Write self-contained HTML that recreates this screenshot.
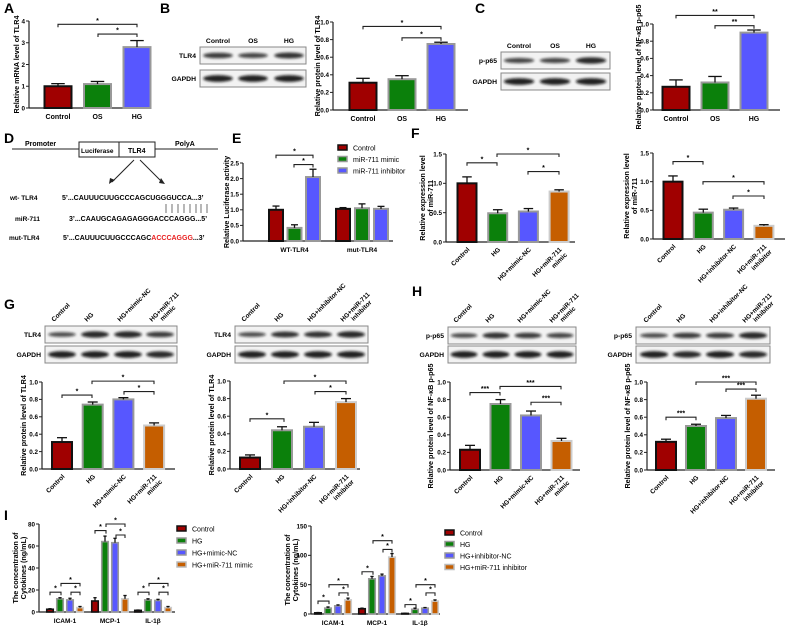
<!DOCTYPE html>
<html><head><meta charset="utf-8"><style>
body{margin:0;background:#fff;width:786px;height:626px;overflow:hidden}
svg{font-family:"Liberation Sans",Arial,sans-serif;font-weight:bold}
</style></head><body>
<svg id="fig" width="786" height="626" viewBox="0 0 786 626" xmlns="http://www.w3.org/2000/svg">
<defs><filter id="bl" x="-20%" y="-100%" width="140%" height="300%"><feGaussianBlur stdDeviation="1.2"/></filter></defs>
<g font-size="14">
<text x="4" y="13">A</text><text x="160" y="13">B</text><text x="475" y="13">C</text>
<text x="4" y="143">D</text><text x="232" y="143">E</text><text x="411" y="138">F</text>
<text x="4" y="309">G</text><text x="412" y="296">H</text><text x="4" y="520">I</text></g>
<g font-size="7">
<line x1="12" y1="149" x2="218" y2="149" stroke="#222" stroke-width="1"/>
<rect x="79" y="142" width="40" height="15" fill="#fff" stroke="#222"/><rect x="119" y="142" width="36" height="15" fill="#fff" stroke="#222"/>
<text x="25" y="146">Promoter</text><text x="81" y="153" font-size="6.5">Luciferase</text><text x="128" y="153">TLR4</text><text x="175" y="146">PolyA</text>
<line x1="134" y1="160" x2="112" y2="182" stroke="#222"/><path d="M109 184l1-6 5 2z" fill="#222"/>
<line x1="140" y1="160" x2="162" y2="182" stroke="#222"/><path d="M165 184l-6-1 2-5z" fill="#222"/>
<text x="10" y="200" font-size="6.5">wt- TLR4</text><text x="62" y="200">5’...CAUUUCUUGCCCAGCUGGGUCCA...3’</text>
<g stroke="#333" stroke-width=".7"><line x1="166" y1="204" x2="166" y2="213"/><line x1="172" y1="204" x2="172" y2="213"/><line x1="178" y1="204" x2="178" y2="213"/><line x1="184" y1="204" x2="184" y2="213"/><line x1="190" y1="204" x2="190" y2="213"/><line x1="196" y1="204" x2="196" y2="213"/><line x1="201" y1="204" x2="201" y2="213"/><line x1="207" y1="204" x2="207" y2="213"/></g>
<text x="15" y="221" font-size="6.5">miR-711</text><text x="69" y="221">3’...CAAUGCAGAGAGGGACCCAGGG...5’</text>
<text x="9" y="240" font-size="6.5">mut-TLR4</text><text x="63" y="240">5’...CAUUUCUUGCCCAGC<tspan fill="#e82020">ACCCAGGG</tspan>...3’</text></g>
</svg>
<script>
// ---- data arrays ----
const catABC=["Control","OS","HG"];
const valA=[1.0,1.1,2.8], errA=[0.12,0.12,0.3];
const valB=[0.31,0.35,0.75], errB=[0.05,0.04,0.02];
const valC=[0.27,0.32,0.9], errC=[0.08,0.07,0.03];
const catE=["WT-TLR4","mut-TLR4"], serE=["Control","miR-711 mimic","miR-711 inhibitor"];
const valE=[[1.0,0.42,2.05],[1.03,1.05,1.03]], errE=[[0.12,0.1,0.25],[0.04,0.14,0.08]];
const catFm=["Control","HG","HG+mimic-NC","HG+miR-711|mimic"];
const catFi=["Control","HG","HG+inhibitor-NC","HG+miR-711|inhibitor"];
const valF1=[1.0,0.49,0.52,0.86], errF1=[0.11,0.06,0.05,0.03];
const valF2=[1.0,0.46,0.51,0.23], errF2=[0.1,0.06,0.03,0.02];
const valG1=[0.31,0.74,0.80,0.50], errG1=[0.05,0.03,0.02,0.03];
const valG2=[0.13,0.44,0.48,0.76], errG2=[0.03,0.04,0.05,0.04];
const valH1=[0.23,0.75,0.62,0.33], errH1=[0.05,0.05,0.05,0.03];
const valH2=[0.32,0.50,0.59,0.81], errH2=[0.03,0.02,0.03,0.04];
const catI=["ICAM-1","MCP-1","IL-1β"];
const serI1=["Control","HG","HG+mimic-NC","HG+miR-711 mimic"];
const serI2=["Control","HG","HG+inhibitor-NC","HG+miR-711 inhibitor"];
const valI1=[[2.5,12,11,4],[10,64,63,12],[1.5,11,10.5,4]], errI1=[[0.5,1,1.5,1],[3,5,4,3],[0.3,1,1,1]];
const valI2=[[2,10,14,24],[9,60,65,97],[1,8,10,22]], errI2=[[0.5,2,1.5,3],[1,4,3,6],[0.3,2,1,2]];
const ticks4=[0,1,2,3,4], ticks1=[0,0.2,0.4,0.6,0.8,1.0], ticks25=[0,0.5,1.0,1.5,2.0,2.5], ticks15=[0,0.5,1.0,1.5], ticks80=[0,20,40,60,80], ticks150=[0,50,100,150];
// ---- drawing ----
const NS="http://www.w3.org/2000/svg", svg=document.getElementById('fig');
const COL=["#a00000","#0b800b","#5757ff","#c55e00"], EDGE=["#111","#999","#999","#ccc"];
function el(t,a,p){const e=document.createElementNS(NS,t);for(const k in a)e.setAttribute(k,a[k]);(p||svg).appendChild(e);return e;}
function txt(x,y,s,a,p){const e=el('text',Object.assign({x:x,y:y,'font-size':7},a),p);e.textContent=s;return e;}
function chart(c){
  const g=el('g',{});
  
  
  const Y=v=>c.yb-(v/c.max)*(c.yb-c.yt);
  el('line',{x1:c.x0,y1:Y(0),x2:c.x0,y2:Y(c.max),stroke:'#222','stroke-width':1.2},g);
  el('line',{x1:c.x0,y1:c.yb,x2:c.x1,y2:c.yb,stroke:'#222','stroke-width':1.2},g);
  c.ticks.forEach(t=>{el('line',{x1:c.x0-3,y1:Y(t),x2:c.x0,y2:Y(t),stroke:'#222'},g);txt(c.x0-4,Y(t)+2.3,c.fmt(t),{'text-anchor':'end','font-size':6.3},g);});
  const two=!!c.ylabel[1];
  const yl=txt(0,two?-4:0,c.ylabel[0],{'text-anchor':'middle','font-size':7.2,transform:`translate(${c.ylx},${(c.yb+c.yt)/2}) rotate(-90)`},g);
  if(two){const t2=el('tspan',{x:0,dy:8},yl);t2.textContent=c.ylabel[1];}
  c.bars.forEach(b=>{
    const r=el('rect',{x:b.cx-c.bw/2,y:Y(b.v),width:c.bw,height:c.yb-Y(b.v),fill:COL[b.s],stroke:EDGE[b.s],'stroke-width':c.sw||2},g);
    
    
    const ty=Y(b.v+b.e);
    el('line',{x1:b.cx,y1:Y(b.v),x2:b.cx,y2:ty,stroke:'#111','stroke-width':1.3},g);
    el('line',{x1:b.cx-c.bw*0.25,y1:ty,x2:b.cx+c.bw*0.25,y2:ty,stroke:'#111','stroke-width':1.3},g);
  });
  (c.xl||[]).forEach(l=>{
    if(c.rot){const parts=l.s.split('|');const t=txt(0,0,parts[0],{'text-anchor':'end','font-size':6.5,transform:`translate(${l.x+3},${c.yb+8}) rotate(-45)`},g);
      if(parts[1]){const s=el('tspan',{x:0,dy:7.5},t);s.textContent=parts[1];}}
    else txt(l.x,c.yb+11,l.s,{'text-anchor':'middle','font-size':c.xfs||7},g);
  });
  (c.br||[]).forEach(b=>{const y=Y(b[2]);
    el('path',{d:`M${b[0]} ${y+3}V${y}H${b[1]}V${y+3}`,fill:'none',stroke:'#222','stroke-width':1.1},g);
    txt((b[0]+b[1])/2,y-1.5,b[3],{'text-anchor':'middle','font-size':7},g);});
  (c.legend||[]).forEach((s,i)=>{const ly=c.lg[1]+i*c.lg[2];
    el('rect',{x:c.lg[0],y:ly-3,width:9,height:5,fill:COL[i],stroke:EDGE[i]==='#ccc'?'#bbb':EDGE[i],'stroke-width':1.5},g);
    txt(c.lg[0]+15,ly+2.5,s,{'font-size':7,'font-weight':'normal'},g);});
  return Y;
}
function simple(name,x0,x1,yb,yt,max,ticks,fmt,centers,bw,vals,errs,cats,ylabel,ylx,br,rot,cols){
  return chart({name,x0,x1,yb,yt,max,ticks,fmt,bw,ylabel,ylx,br,rot,
    bars:vals.map((v,i)=>({cx:centers[i],v:v,e:errs[i],s:cols?cols[i]:i})),
    xl:cats.map((s,i)=>({x:centers[i],s:s}))});
}
const f1=t=>t.toFixed(1), f0=t=>String(t);
const c3=(a,s)=>[a,a+s,a+2*s], c4=(a,s)=>[a,a+s,a+2*s,a+3*s];
// A
simple('chart-a-mrna',29,148,108,21,4,ticks4,f0,c3(58,39.5),27,valA,errA,catABC,['Relative mRNA level of TLR4'],19,[[58,137,3.85,'*'],[98,137,3.4,'*']]);
// B
simple('chart-b-protein',333,468,110,22,1.0,ticks1,f1,c3(363,39),27,valB,errB,catABC,['Relative protein level of TLR4'],320,[[363,441,0.95,'*'],[402,441,0.82,'*']]);
// C
simple('chart-c-p65',653,780,110,24,1.0,ticks1,f1,c3(676,39),27,valC,errC,catABC,['Relative protein level of NF-κB p-p65'],641,[[676,754,1.1,'**'],[715,754,0.98,'**']]);
// E
(function(){const cx=[c3(276,18.5),c3(343,19)];const bars=[];
 valE.forEach((g,i)=>g.forEach((v,j)=>bars.push({cx:cx[i][j],v:v,e:errE[i][j],s:j})));
 chart({name:'chart-e-luciferase',x0:243,x1:393,yb:241,yt:163,max:2.5,ticks:ticks25,fmt:f1,bw:14,ylabel:['Relative Luciferase activity'],ylx:229,bars,
  xl:catE.map((s,i)=>({x:cx[i][1],s:s})),xfs:6.5,br:[[276,313,2.75,'*'],[294,313,2.45,'*']],legend:serE,lg:[338,148,11.5]});})();
// F
simple('chart-f-mimic',446,575,242,154,1.5,ticks15,f1,c4(467,30.7),19,valF1,errF1,catFm,['Relative expression level','of miR-711'],429,[[467,497,1.35,'*'],[497,559,1.5,'*'],[528,559,1.2,'*']],true);
simple('chart-f-inhibitor',653,785,239,153,1.5,ticks15,f1,c4(673,30.3),19,valF2,errF2,catFi,['Relative expression level','of miR-711'],633,[[673,703,1.35,'*'],[703,764,1.0,'*'],[733,764,0.75,'*']],true);
// G
simple('chart-g-mimic',42,175,469,382,1.0,ticks1,f1,c4(62,30.7),20,valG1,errG1,catFm,['Relative protein level of TLR4'],26,[[62,92,0.85,'*'],[92,154,1.01,'*'],[124,154,0.89,'*']],true);
simple('chart-g-inhibitor',230,360,469,381,1.0,ticks1,f1,c4(250,32),20,valG2,errG2,catFi,['Relative protein level of TLR4'],214,[[250,284,0.57,'*'],[284,346,1.0,'*'],[315,346,0.88,'*']],true);
// H
simple('chart-h-mimic',450,580,470,382,1.0,ticks1,f1,c4(470,30.5),20,valH1,errH1,catFm,['Relative protein level of NF-κB p-p65'],433,[[470,500,0.88,'***'],[500,561,0.95,'***'],[531,561,0.77,'***']],true);
simple('chart-h-inhibitor',647,775,470,382,1.0,ticks1,f1,c4(666,30),20,valH2,errH2,catFi,['Relative protein level of NF-κB p-p65'],630,[[666,696,0.6,'***'],[696,756,1.0,'***'],[726,756,0.92,'***']],true);
// I
function chartI(name,x0,x1,yb,yt,max,ticks,gc,vals,errs,ser,lg,br){
  const bars=[];vals.forEach((g,i)=>g.forEach((v,j)=>bars.push({cx:gc[i]+(j-1.5)*10,v:v,e:errs[i][j],s:j})));
  chart({name,x0,x1,yb,yt,max,ticks,fmt:f0,bw:6.5,sw:1.6,ylabel:['The concentration of','Cytokines (ng/mL)'],ylx:x0-17,bars,
   xl:catI.map((s,i)=>({x:gc[i],s:s})),xfs:6.5,legend:ser,lg,br});
}
chartI('chart-i-mimic',39,175,612,524,80,ticks80,[65,110,153],valI1,errI1,serI1,[177,529,12],
 [[50,61,18,'*'],[61,80,26,'*'],[71,80,18,'*'],[95,106,74,'*'],[106,125,80,'*'],[116,125,70,'*'],[138,149,18,'*'],[149,168,26,'*'],[159,168,18,'*']]);
chartI('chart-i-inhibitor',311,440,614,526,150,ticks150,[333,377,420],valI2,errI2,serI2,[445,533,11.5],
 [[318,329,22,'*'],[329,348,50,'*'],[339,348,36,'*'],[362,373,72,'*'],[373,392,125,'*'],[383,392,110,'*'],[405,416,16,'*'],[416,435,50,'*'],[426,435,36,'*']]);
// ---- blots ----
function blot(name,x,w,lanes,rows,labels,strength,hdr,hdrRot){
  const g=el('g',{});
  
  
  rows.forEach((r,ri)=>{
    el('rect',{x:x,y:r,width:w,height:17,fill:'#f2f2f2',stroke:'#888','stroke-width':1},g);
    txt(x-4,r+11,labels[ri],{'text-anchor':'end','font-size':6.8},g);
    lanes.forEach((lx,li)=>{const s=strength[ri][li];
      el('ellipse',{cx:lx,cy:r+8.5,rx:w/lanes.length*0.42,ry:1.6+2*s,fill:'#111',opacity:0.55+0.4*s,filter:'url(#bl)'},g);});
  });
  hdr.forEach((h,i)=>{
    if(hdrRot){const p=h.split('|');const t=txt(0,0,p[0],{'font-size':6.5,transform:`translate(${lanes[i]-8},${rows[0]-4}) rotate(-45)`},g);
      if(p[1]){const s=el('tspan',{x:8,dy:7},t);s.textContent=p[1];}}
    else txt(lanes[i],rows[0]-4,h,{'text-anchor':'middle','font-size':6.8},g);
  });
}
blot('blot-b',200,106,[218,253,289],[47,70],['TLR4','GAPDH'],[[0.6,0.5,0.7],[0.9,0.9,0.9]],catABC,false);
blot('blot-c',501,109,[519,555,591],[52,73],['p-p65','GAPDH'],[[0.5,0.5,0.8],[0.9,0.9,0.9]],catABC,false);
blot('blot-g-mimic',45,132,[62,95,128,160],[326,346],['TLR4','GAPDH'],[[0.4,0.8,0.8,0.6],[0.9,0.9,0.9,0.8]],catFm,true);
blot('blot-g-inhibitor',235,133,[252,285,318,351],[326,346],['TLR4','GAPDH'],[[0.4,0.7,0.7,0.8],[0.9,0.9,0.9,0.9]],catFi,true);
blot('blot-h-mimic',448,128,[464,496,528,560],[327,346],['p-p65','GAPDH'],[[0.4,0.7,0.6,0.5],[0.9,0.9,0.9,0.9]],catFm,true);
blot('blot-h-inhibitor',636,134,[654,687,720,753],[327,346],['p-p65','GAPDH'],[[0.4,0.6,0.6,0.8],[0.9,0.8,0.9,0.8]],catFi,true);
</script>
</body></html>
